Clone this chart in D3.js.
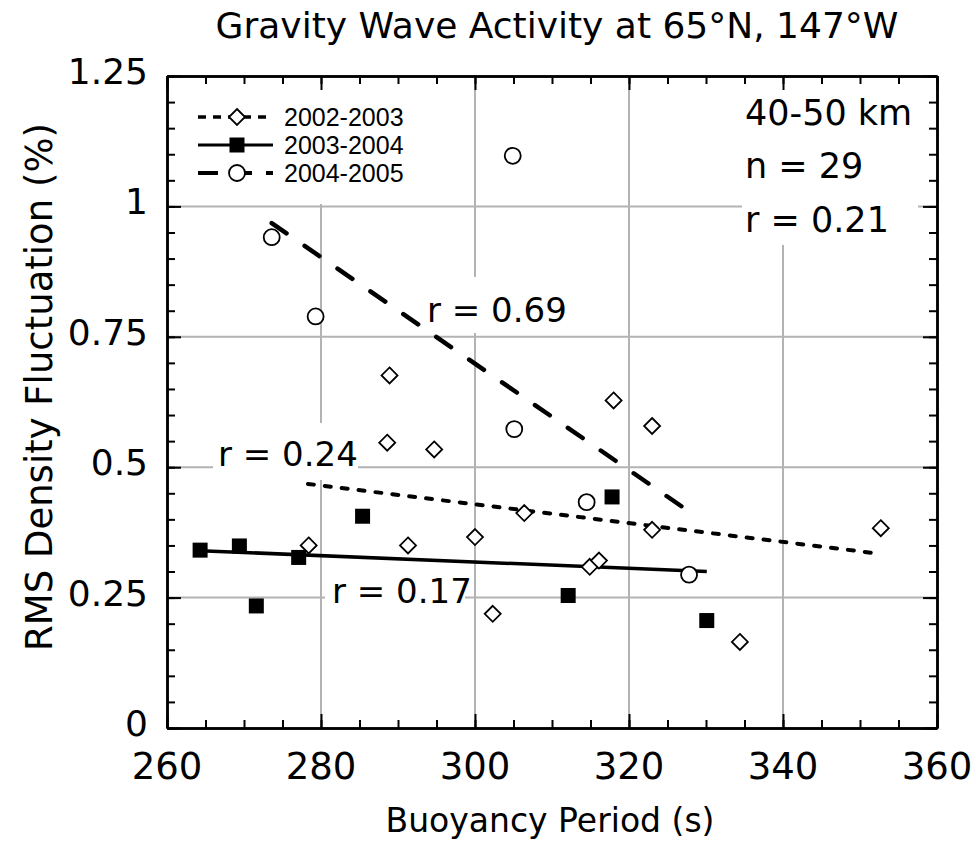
<!DOCTYPE html>
<html>
  <head>
    <meta charset="utf-8">
    <title>Gravity wave activity</title>
    <script src="https://d3js.org/d3.v7.min.js"></script>
    <style>
      body { margin: 0; background: #fff; }
      svg { display: block; }
      .comic { font-family: "Comic Sans MS", "DejaVu Sans", sans-serif; fill: #000; }
      .legend text { font-family: "Liberation Sans", Arial, sans-serif; font-size: 25px; }
    </style>
  </head>
  <body>
    <div id="chart"></div>
    <script>
      // data
      var periods0203 = [278.4, 288.9, 288.6, 294.7, 291.3, 300.0, 302.3, 306.4, 314.9, 316.1, 318.0, 323.0, 323.0, 334.4, 352.7];
      var rms0203 = [0.350, 0.676, 0.547, 0.534, 0.350, 0.366, 0.219, 0.412, 0.309, 0.321, 0.628, 0.579, 0.380, 0.165, 0.383];
      var periods0304 = [264.3, 269.4, 271.6, 277.1, 285.4, 312.1, 317.8, 330.1];
      var rms0304 = [0.341, 0.349, 0.234, 0.327, 0.406, 0.254, 0.443, 0.206];
      var periods0405 = [273.6, 279.3, 304.9, 305.1, 314.5, 327.8];
      var rms0405 = [0.941, 0.789, 1.097, 0.573, 0.433, 0.294];
      // fit line end points
      var fitX0203 = [278.3, 352.6], fitY0203 = [0.468, 0.334];
      var fitX0304 = [264.3, 330.1], fitY0304 = [0.340, 0.300];
      var fitX0405 = [273.6, 327.8], fitY0405 = [0.968, 0.415];
      var seriesNames = ["2002-2003", "2003-2004", "2004-2005"];
      var xTicks = [260, 280, 300, 320, 340, 360];
      var yTicks = [0, 0.25, 0.5, 0.75, 1, 1.25];
      var yTickLabels = ["0", "0.25", "0.5", "0.75", "1", "1.25"];

      var width = 976, height = 844;
      var x = d3.scaleLinear().domain([260, 360]).range([167, 937]);
      var y = d3.scaleLinear().domain([0, 1.25]).range([728, 76]);

      var svg = d3.select("#chart").append("svg")
        .attr("width", width)
        .attr("height", height);

      // gridlines
      var grid = svg.append("g").attr("stroke", "#b3b3b3").attr("stroke-width", 2);
      grid.selectAll(".gx").data(xTicks.slice(1, -1)).enter().append("line")
        .attr("x1", function(d) { return x(d); }).attr("x2", function(d) { return x(d); })
        .attr("y1", y(0)).attr("y2", y(1.25));
      grid.selectAll(".gy").data(yTicks.slice(1, -1)).enter().append("line")
        .attr("y1", function(d) { return y(d); }).attr("y2", function(d) { return y(d); })
        .attr("x1", x(260)).attr("x2", x(360));

      // white boxes behind the labels
      var boxes = [
        [x(260) + 1, y(1.25) + 1, 243, 127],
        [742, y(1.25) + 1, 176, 168],
        [422, 277, 148, 56],
        [213, 423, 145, 57],
        [325, 562, 140, 52]
      ];
      svg.append("g").selectAll("rect").data(boxes).enter().append("rect")
        .attr("x", function(d) { return d[0]; })
        .attr("y", function(d) { return d[1]; })
        .attr("width", function(d) { return d[2]; })
        .attr("height", function(d) { return d[3]; })
        .attr("fill", "#fff");

      // axes, ticks inward on all four sides
      function styleAxis(g) {
        g.selectAll("path").attr("stroke", "#000").attr("stroke-width", 2.5);
        g.selectAll("line").attr("stroke", "#000").attr("stroke-width", 2);
      }
      var minorX = d3.range(260, 361, 5), minorY = d3.range(0, 1.2501, 0.05);
      [[d3.axisBottom(x), y(0)], [d3.axisTop(x), y(1.25)]].forEach(function(a) {
        svg.append("g").attr("transform", "translate(0," + a[1] + ")")
          .call(a[0].tickValues(minorX).tickSize(-8).tickFormat("").tickSizeOuter(0)).call(styleAxis);
        svg.append("g").attr("transform", "translate(0," + a[1] + ")")
          .call(a[0].tickValues(xTicks).tickSize(-14).tickFormat("").tickSizeOuter(0)).call(styleAxis);
      });
      [[d3.axisLeft(y), x(260)], [d3.axisRight(y), x(360)]].forEach(function(a) {
        svg.append("g").attr("transform", "translate(" + a[1] + ",0)")
          .call(a[0].tickValues(minorY).tickSize(-8).tickFormat("").tickSizeOuter(0)).call(styleAxis);
        svg.append("g").attr("transform", "translate(" + a[1] + ",0)")
          .call(a[0].tickValues(yTicks).tickSize(-14).tickFormat("").tickSizeOuter(0)).call(styleAxis);
      });

      // tick labels
      svg.append("g").attr("class", "comic").attr("font-size", 37).attr("text-anchor", "middle")
        .selectAll("text").data(xTicks).enter().append("text")
        .attr("x", function(d) { return x(d); })
        .attr("y", 779)
        .text(function(d) { return d; });
      svg.append("g").attr("class", "comic").attr("font-size", 36).attr("text-anchor", "end")
        .selectAll("text").data(yTicks).enter().append("text")
        .attr("x", 148)
        .attr("y", function(d) { return y(d) + 8; })
        .text(function(d, i) { return yTickLabels[i]; });

      // fit lines
      var line = d3.line().x(function(d) { return x(d[0]); }).y(function(d) { return y(d[1]); });
      var styles = [
        { dash: "6,11", width: 4, cap: "round" },
        { dash: null, width: 3.5, cap: "butt" },
        { dash: "18,22", width: 4.5, cap: "round" }
      ];
      var fits = [d3.zip(fitX0203, fitY0203), d3.zip(fitX0304, fitY0304), d3.zip(fitX0405, fitY0405)];
      fits.forEach(function(f, i) {
        svg.append("path").datum(f)
          .attr("d", line)
          .attr("fill", "none")
          .attr("stroke", "#000")
          .attr("stroke-width", styles[i].width)
          .attr("stroke-linecap", styles[i].cap)
          .attr("stroke-dasharray", styles[i].dash);
      });

      // markers
      var diamond = "M0,-8L8,0L0,8L-8,0Z";
      function drawMarker(g, kind) {
        if (kind == 0) {
          g.append("path").attr("d", diamond).attr("fill", "#fff").attr("stroke", "#000").attr("stroke-width", 1.8);
        } else if (kind == 1) {
          g.append("rect").attr("x", -7.5).attr("y", -7.5).attr("width", 15).attr("height", 15).attr("fill", "#000");
        } else {
          g.append("circle").attr("r", 8).attr("fill", "#fff").attr("stroke", "#000").attr("stroke-width", 1.8);
        }
      }
      var points = [d3.zip(periods0203, rms0203), d3.zip(periods0304, rms0304), d3.zip(periods0405, rms0405)];
      points.forEach(function(pts, i) {
        svg.append("g").selectAll("g").data(pts).enter().append("g")
          .attr("transform", function(d) { return "translate(" + x(d[0]) + "," + y(d[1]) + ")"; })
          .each(function() { drawMarker(d3.select(this), i); });
      });

      // legend
      var legend = svg.append("g").attr("class", "legend");
      seriesNames.forEach(function(name, i) {
        var ly = 117 + i * 28;
        legend.append("line")
          .attr("x1", 198).attr("x2", 273).attr("y1", ly).attr("y2", ly)
          .attr("stroke", "#000")
          .attr("stroke-width", styles[i].width - 0.5)
          .attr("stroke-dasharray", i == 0 ? "8,7" : i == 2 ? "20,14" : null);
        drawMarker(legend.append("g").attr("transform", "translate(237," + ly + ")"), i);
        legend.append("text").attr("x", 284).attr("y", ly + 9).text(name);
      });

      // annotations
      var notes = [
        ["40-50 km", 745, 125, 35], ["n = 29", 745, 178, 35], ["r = 0.21", 745, 232, 35],
        ["r = 0.69", 427, 322, 34], ["r = 0.24", 218, 466, 34], ["r = 0.17", 332, 603, 34]
      ];
      svg.append("g").attr("class", "comic")
        .selectAll("text").data(notes).enter().append("text")
        .attr("x", function(d) { return d[1]; })
        .attr("y", function(d) { return d[2]; })
        .attr("font-size", function(d) { return d[3]; })
        .text(function(d) { return d[0]; });

      // titles
      svg.append("text").attr("class", "comic").attr("font-size", 36).attr("text-anchor", "middle")
        .attr("x", 557).attr("y", 38)
        .text("Gravity Wave Activity at 65°N, 147°W");
      svg.append("text").attr("class", "comic").attr("font-size", 33).attr("text-anchor", "middle")
        .attr("x", 550).attr("y", 832)
        .text("Buoyancy Period (s)");
      svg.append("text").attr("class", "comic").attr("font-size", 37).attr("text-anchor", "middle")
        .attr("transform", "translate(52," + 387 + ") rotate(-90)")
        .text("RMS Density Fluctuation (%)");
    </script>
  </body>
</html>
